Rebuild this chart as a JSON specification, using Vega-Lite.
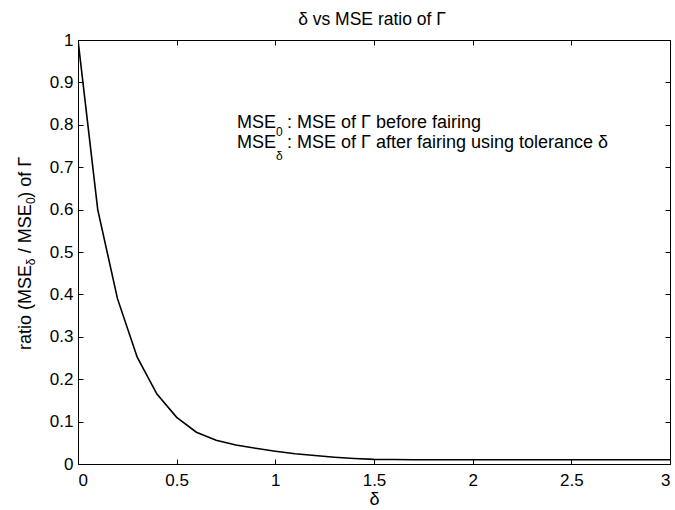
{
  "$schema": "https://vega.github.io/schema/vega-lite/v6.json",
  "width": 592,
  "height": 424,
  "autosize": {"type": "none"},
  "padding": {"left": 78, "top": 40, "right": 5, "bottom": 46},
  "background": "white",
  "config": {
    "font": "Liberation Sans",
    "view": {"stroke": "black", "strokeWidth": 1},
    "axis": {
      "grid": false,
      "domainColor": "black",
      "tickColor": "black",
      "labelColor": "black",
      "titleColor": "black",
      "labelFont": "Liberation Sans",
      "labelFontSize": 17,
      "titleFont": "Liberation Sans",
      "titleFontSize": 18,
      "titleFontWeight": "normal",
      "tickSize": -5,
      "domainWidth": 1,
      "tickWidth": 1
    },
    "text": {"font": "Liberation Sans", "color": "black"}
  },
  "datasets": {
    "curve": [
      {"delta": 0.0, "ratio": 1.0},
      {"delta": 0.1, "ratio": 0.6},
      {"delta": 0.2, "ratio": 0.39},
      {"delta": 0.3, "ratio": 0.252},
      {"delta": 0.4, "ratio": 0.165},
      {"delta": 0.5, "ratio": 0.11},
      {"delta": 0.6, "ratio": 0.075},
      {"delta": 0.7, "ratio": 0.056},
      {"delta": 0.8, "ratio": 0.045},
      {"delta": 0.9, "ratio": 0.037},
      {"delta": 1.0, "ratio": 0.03},
      {"delta": 1.1, "ratio": 0.024},
      {"delta": 1.2, "ratio": 0.02},
      {"delta": 1.3, "ratio": 0.016},
      {"delta": 1.4, "ratio": 0.013},
      {"delta": 1.5, "ratio": 0.011},
      {"delta": 1.6, "ratio": 0.0105},
      {"delta": 1.7, "ratio": 0.01},
      {"delta": 1.8, "ratio": 0.01},
      {"delta": 1.9, "ratio": 0.01},
      {"delta": 2.0, "ratio": 0.01},
      {"delta": 2.1, "ratio": 0.01},
      {"delta": 2.2, "ratio": 0.01},
      {"delta": 2.3, "ratio": 0.01},
      {"delta": 2.4, "ratio": 0.01},
      {"delta": 2.5, "ratio": 0.01},
      {"delta": 2.6, "ratio": 0.01},
      {"delta": 2.7, "ratio": 0.01},
      {"delta": 2.8, "ratio": 0.01},
      {"delta": 2.9, "ratio": 0.01},
      {"delta": 3.0, "ratio": 0.01}
    ],
    "one": [{}]
  },
  "layer": [
    {
      "data": {"name": "curve"},
      "mark": {"type": "line", "color": "black", "strokeWidth": 1.6, "clip": true},
      "encoding": {
        "x": {
          "field": "delta", "type": "quantitative",
          "scale": {"domain": [0, 3], "nice": false, "zero": false},
          "axis": {"orient": "bottom", "values": [0, 0.5, 1, 1.5, 2, 2.5, 3], "format": "~g", "labelPadding": 13, "title": "δ", "titlePadding": 2}
        },
        "y": {
          "field": "ratio", "type": "quantitative",
          "scale": {"domain": [0, 1], "nice": false, "zero": false},
          "axis": {"orient": "left", "values": [0, 0.1, 0.2, 0.3, 0.4, 0.5, 0.6, 0.7, 0.8, 0.9, 1], "format": "~g", "labelPadding": 10, "title": null}
        }
      }
    },
    {
      "data": {"name": "curve"},
      "mark": {"type": "line", "strokeOpacity": 0},
      "encoding": {
        "x": {
          "field": "delta", "type": "quantitative",
          "axis": {"orient": "top", "values": [0, 0.5, 1, 1.5, 2, 2.5, 3], "labels": false, "title": null, "domain": false}
        },
        "y": {
          "field": "ratio", "type": "quantitative",
          "axis": {"orient": "right", "values": [0, 0.1, 0.2, 0.3, 0.4, 0.5, 0.6, 0.7, 0.8, 0.9, 1], "labels": false, "title": null, "domain": false}
        }
      }
    },
    {
      "data": {"name": "one"},
      "mark": {"type": "text", "text": "δ vs MSE ratio of Γ", "fontSize": 17.5, "align": "center", "baseline": "alphabetic"},
      "encoding": {"x": {"datum": 1.49, "type": "quantitative", "axis": null}, "y": {"datum": 1.035, "type": "quantitative", "axis": null}}
    },
    {
      "data": {"name": "one"},
      "mark": {"type": "text", "text": "MSE", "fontSize": 18, "align": "left", "baseline": "alphabetic"},
      "encoding": {"x": {"datum": 0.806, "type": "quantitative", "axis": null}, "y": {"datum": 0.792, "type": "quantitative", "axis": null}}
    },
    {
      "data": {"name": "one"},
      "mark": {"type": "text", "text": "0", "fontSize": 12, "align": "left", "baseline": "alphabetic"},
      "encoding": {"x": {"datum": 1.003, "type": "quantitative", "axis": null}, "y": {"datum": 0.774, "type": "quantitative", "axis": null}}
    },
    {
      "data": {"name": "one"},
      "mark": {"type": "text", "text": ": MSE of Γ before fairing", "fontSize": 18, "align": "left", "baseline": "alphabetic"},
      "encoding": {"x": {"datum": 1.059, "type": "quantitative", "axis": null}, "y": {"datum": 0.792, "type": "quantitative", "axis": null}}
    },
    {
      "data": {"name": "one"},
      "mark": {"type": "text", "text": "MSE", "fontSize": 18, "align": "left", "baseline": "alphabetic"},
      "encoding": {"x": {"datum": 0.806, "type": "quantitative", "axis": null}, "y": {"datum": 0.745, "type": "quantitative", "axis": null}}
    },
    {
      "data": {"name": "one"},
      "mark": {"type": "text", "text": "δ", "fontSize": 12, "align": "left", "baseline": "alphabetic"},
      "encoding": {"x": {"datum": 1.003, "type": "quantitative", "axis": null}, "y": {"datum": 0.717, "type": "quantitative", "axis": null}}
    },
    {
      "data": {"name": "one"},
      "mark": {"type": "text", "text": ": MSE of Γ after fairing using tolerance δ", "fontSize": 18, "align": "left", "baseline": "alphabetic"},
      "encoding": {"x": {"datum": 1.059, "type": "quantitative", "axis": null}, "y": {"datum": 0.745, "type": "quantitative", "axis": null}}
    },
    {
      "data": {"name": "one"},
      "mark": {"type": "text", "text": "ratio (MSE", "fontSize": 18, "angle": 270, "align": "left", "baseline": "alphabetic"},
      "encoding": {"x": {"datum": -0.238, "type": "quantitative", "axis": null}, "y": {"datum": 0.269, "type": "quantitative", "axis": null}}
    },
    {
      "data": {"name": "one"},
      "mark": {"type": "text", "text": "δ", "fontSize": 12, "angle": 270, "align": "left", "baseline": "alphabetic"},
      "encoding": {"x": {"datum": -0.218, "type": "quantitative", "axis": null}, "y": {"datum": 0.469, "type": "quantitative", "axis": null}}
    },
    {
      "data": {"name": "one"},
      "mark": {"type": "text", "text": "/ MSE", "fontSize": 18, "angle": 270, "align": "left", "baseline": "alphabetic"},
      "encoding": {"x": {"datum": -0.238, "type": "quantitative", "axis": null}, "y": {"datum": 0.497, "type": "quantitative", "axis": null}}
    },
    {
      "data": {"name": "one"},
      "mark": {"type": "text", "text": "0", "fontSize": 12, "angle": 270, "align": "left", "baseline": "alphabetic"},
      "encoding": {"x": {"datum": -0.218, "type": "quantitative", "axis": null}, "y": {"datum": 0.613, "type": "quantitative", "axis": null}}
    },
    {
      "data": {"name": "one"},
      "mark": {"type": "text", "text": ") of Γ", "fontSize": 18, "angle": 270, "align": "left", "baseline": "alphabetic"},
      "encoding": {"x": {"datum": -0.238, "type": "quantitative", "axis": null}, "y": {"datum": 0.628, "type": "quantitative", "axis": null}}
    }
  ],
  "resolve": {"axis": {"x": "independent", "y": "independent"}}
}
